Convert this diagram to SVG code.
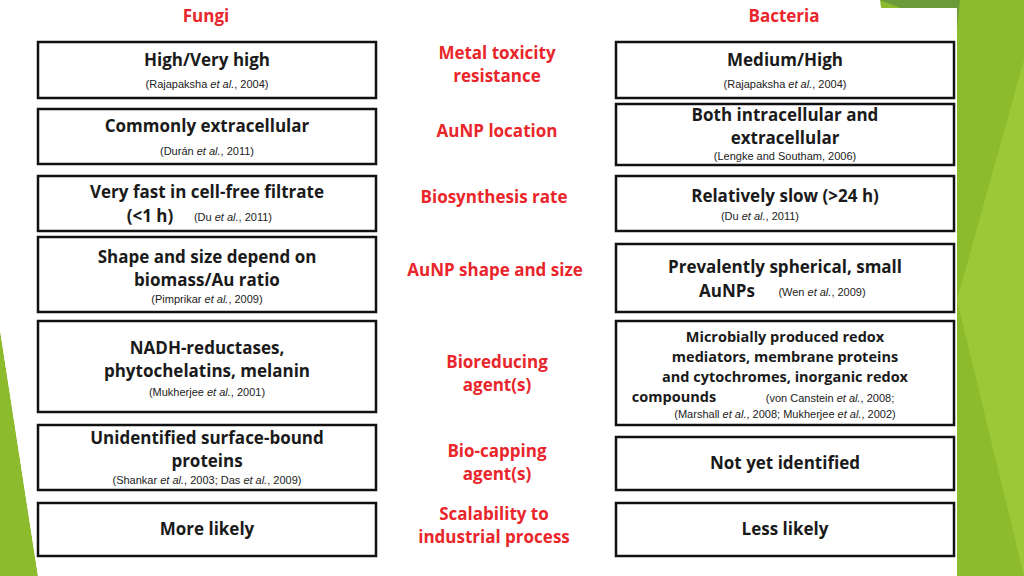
<svg xmlns="http://www.w3.org/2000/svg" width="1024" height="576" viewBox="0 0 1024 576">
<style>
.b{fill:#fff;stroke:#111;stroke-width:2.5}
.t{font-family:"Open Sans","Liberation Sans",sans-serif;font-weight:bold;font-size:17px;fill:#1a1a1a;text-anchor:middle}
.s{font-family:"Open Sans","Liberation Sans",sans-serif;font-weight:bold;font-size:14.5px;fill:#1a1a1a;text-anchor:middle}
.c{font-family:"Liberation Sans",sans-serif;font-size:11px;fill:#222;text-anchor:middle}
.r{font-family:"Open Sans","Liberation Sans",sans-serif;font-weight:bold;font-size:17px;fill:#e8262b;text-anchor:middle}
</style>
<rect width="1024" height="576" fill="#fff"/>
<polygon points="880,0 1024,0 1024,576 957,576" fill="#8dbb2e"/>
<polygon points="880,0 960,0 957,30" fill="#6a9a3a"/>
<polygon points="1024,60 957,300 1024,576" fill="#9cc838"/>
<polygon points="0,330 0,576 38,576" fill="#8dbb2e"/>
<polygon points="30,8 957,8 957,576 38,576 0,330 0,0 30,0" fill="#fff"/>
<text class="r" x="206" y="22">Fungi</text>
<text class="r" x="784" y="22">Bacteria</text>
<g id="labels">
<text class="r" x="497" y="59">Metal toxicity</text><text class="r" x="497" y="82">resistance</text>
<text class="r" x="497" y="137">AuNP location</text>
<text class="r" x="494" y="203">Biosynthesis rate</text>
<text class="r" x="495" y="276">AuNP shape and size</text>
<text class="r" x="497" y="368">Bioreducing</text><text class="r" x="497" y="391">agent(s)</text>
<text class="r" x="497" y="457">Bio-capping</text><text class="r" x="497" y="480">agent(s)</text>
<text class="r" x="494" y="520">Scalability to</text><text class="r" x="494" y="543">industrial process</text>
</g>
<g id="fungi">
<g id="f1"><rect class="b" x="38" y="42" width="338" height="56"/><text class="t" x="207" y="66">High/Very high</text><text class="c" x="207" y="88">(Rajapaksha <tspan font-style="italic">et al.</tspan>, 2004)</text></g>
<g id="f2"><rect class="b" x="38" y="109" width="338" height="55"/><text class="t" x="207" y="132">Commonly extracellular</text><text class="c" x="207" y="155">(Durán <tspan font-style="italic">et al.</tspan>, 2011)</text></g>
<g id="f3"><rect class="b" x="38" y="176" width="338" height="55"/><text class="t" x="207" y="198">Very fast in cell-free filtrate</text><text class="t" x="150" y="222">(&lt;1 h)</text><text class="c" x="233" y="221">(Du <tspan font-style="italic">et al.</tspan>, 2011)</text></g>
<g id="f4"><rect class="b" x="38" y="237" width="338" height="75"/><text class="t" x="207" y="263">Shape and size depend on</text><text class="t" x="207" y="286">biomass/Au ratio</text><text class="c" x="207" y="303">(Pimprikar <tspan font-style="italic">et al.</tspan>, 2009)</text></g>
<g id="f5"><rect class="b" x="38" y="321" width="338" height="91"/><text class="t" x="207" y="354">NADH-reductases,</text><text class="t" x="207" y="377">phytochelatins, melanin</text><text class="c" x="207" y="396">(Mukherjee <tspan font-style="italic">et al.</tspan>, 2001)</text></g>
<g id="f6"><rect class="b" x="38" y="425" width="338" height="65"/><text class="t" x="207" y="444">Unidentified surface-bound</text><text class="t" x="207" y="467">proteins</text><text class="c" x="207" y="484">(Shankar <tspan font-style="italic">et al.</tspan>, 2003; Das <tspan font-style="italic">et al.</tspan>, 2009)</text></g>
<g id="f7"><rect class="b" x="38" y="503" width="338" height="53"/><text class="t" x="207" y="535">More likely</text></g>
</g>
<g id="bacteria">
<g id="b1"><rect class="b" x="616" y="42" width="338" height="56"/><text class="t" x="785" y="66">Medium/High</text><text class="c" x="785" y="88">(Rajapaksha <tspan font-style="italic">et al.</tspan>, 2004)</text></g>
<g id="b2"><rect class="b" x="616" y="104" width="338" height="61"/><text class="t" x="785" y="121">Both intracellular  and</text><text class="t" x="785" y="144">extracellular</text><text class="c" x="785" y="160">(Lengke and Southam, 2006)</text></g>
<g id="b3"><rect class="b" x="616" y="176" width="338" height="55"/><text class="t" x="785" y="202">Relatively slow  (&gt;24 h)</text><text class="c" x="760" y="220">(Du <tspan font-style="italic">et al.</tspan>, 2011)</text></g>
<g id="b4"><rect class="b" x="616" y="244" width="338" height="68"/><text class="t" x="785" y="273">Prevalently spherical, small</text><text class="t" x="727" y="297">AuNPs</text><text class="c" x="822" y="296">(Wen <tspan font-style="italic">et al.</tspan>, 2009)</text></g>
<g id="b5"><rect class="b" x="616" y="321" width="338" height="104"/><text class="s" x="785" y="342">Microbially produced redox</text><text class="s" x="785" y="362">mediators, membrane proteins</text><text class="s" x="785" y="382">and cytochromes, inorganic  redox</text><text class="s" x="674" y="402">compounds</text><text class="c" x="830" y="402">(von Canstein <tspan font-style="italic">et al.</tspan>, 2008;</text><text class="c" x="785" y="418">(Marshall <tspan font-style="italic">et al.</tspan>, 2008; Mukherjee <tspan font-style="italic">et al.</tspan>, 2002)</text></g>
<g id="b6"><rect class="b" x="616" y="437" width="338" height="53"/><text class="t" x="785" y="469">Not yet identified</text></g>
<g id="b7"><rect class="b" x="616" y="503" width="338" height="53"/><text class="t" x="785" y="535">Less likely</text></g>
</g>
<g id="connectors"/>
</svg>
